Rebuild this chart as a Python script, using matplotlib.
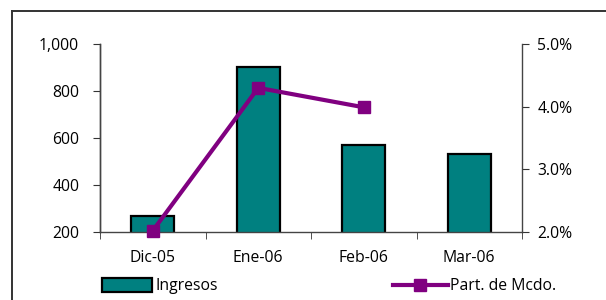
import numpy as np
import matplotlib.pyplot as plt
from matplotlib.lines import Line2D

# Data
meses = ["Dic-05", "Ene-06", "Feb-06", "Mar-06"]
ingresos = [268, 904, 570, 532]
part_mcdo = [2.02, 4.30, 3.99]  # % (no value for Mar-06)

plt.rcParams['font.family'] = ['Open Sans', 'DejaVu Sans']
plt.rcParams['font.size'] = 11.3

fig = plt.figure(figsize=(6.06, 3.0), dpi=100)
ax = fig.add_axes([100/606, 1 - 232/300, 422/606, 188/300])
ax2 = ax.twinx()

x = np.arange(len(meses))
ax.bar(x, ingresos, width=0.41, color="#008080", edgecolor="black", linewidth=1.6,
       zorder=2, label="Ingresos")
ax.set_xlim(-0.5, len(meses) - 0.5)
ax.set_ylim(200, 1000)
ax.set_yticks([200, 400, 600, 800, 1000])
ax.set_yticklabels(["200", "400", "600", "800", "1,000"])
ax.set_xticks(x)
ax.set_xticklabels(meses)
ax.set_xticks(np.arange(len(meses) + 1) - 0.5, minor=True)
ax.tick_params(axis="x", which="major", length=0, pad=13)
ax.tick_params(axis="x", which="minor", length=5, color="#333333", direction="out")
ax.tick_params(axis="y", length=5, color="#333333", pad=10)

ax2.plot(x[:len(part_mcdo)], part_mcdo, color="#800080", linewidth=3,
         marker="s", markersize=9, zorder=3, clip_on=False)
ax2.set_ylim(2.0, 5.0)
ax2.set_yticks([2.0, 3.0, 4.0, 5.0])
ax2.set_yticklabels([f"{v:.1f}%" for v in [2.0, 3.0, 4.0, 5.0]])
ax2.tick_params(axis="y", length=5, color="#333333", pad=6)

for a in (ax, ax2):
    a.spines["top"].set_visible(False)
    for s in ("left", "right", "bottom"):
        a.spines[s].set_color("#444444")
        a.spines[s].set_linewidth(1.0)
ax2.spines["bottom"].set_visible(False)
ax.spines["right"].set_visible(False)

# legend entries placed like the original
h_bar = plt.Rectangle((0, 0), 1, 1, facecolor="#008080", edgecolor="black", linewidth=1.6)
h_line = Line2D([], [], color="#800080", linewidth=3, marker="s", markersize=9)
fig.legend([h_bar], ["Ingresos"], loc="center left", bbox_to_anchor=(102/606, 1 - 286/300),
           frameon=False, handlelength=3.2, handleheight=1.0, handletextpad=0.2,
           borderaxespad=0, borderpad=0)
fig.legend([h_line], ["Part. de Mcdo."], loc="center left", bbox_to_anchor=(393/606, 1 - 286/300),
           frameon=False, handlelength=3.5, handletextpad=0.1, borderaxespad=0, borderpad=0)

# outer frame (top and left edges)
fig.add_artist(Line2D([12/606, 1], [1 - 11/300, 1 - 11/300], color="#333333", linewidth=1.4))
fig.add_artist(Line2D([12/606, 12/606], [0, 1 - 11/300], color="#333333", linewidth=1.4))

fig.savefig("out.png", dpi=100)
